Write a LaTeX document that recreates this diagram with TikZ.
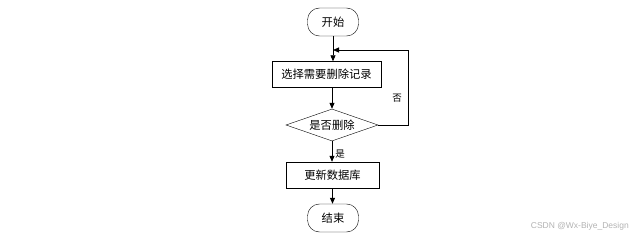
\documentclass[tikz,border=0pt]{standalone}
\usepackage{fontspec}
\newfontfamily\cjk{Noto Sans CJK SC}
\newfontfamily\wm{Liberation Sans}
\usetikzlibrary{shapes.geometric,arrows.meta}
\begin{document}
\begin{tikzpicture}[x=1pt,y=-1pt,
  every node/.style={font=\cjk\fontsize{11.3}{13}\selectfont, inner sep=0pt},
  term/.style={draw, rounded corners=12pt, minimum width=51pt, minimum height=28pt},
  proc/.style={draw, minimum height=26pt},
  dec/.style={draw, diamond, aspect=2.9, minimum width=92pt, minimum height=32pt},
  line/.style={draw, line width=0.8pt, -{Triangle[length=6pt,width=5pt]}},
  lbl/.style={font=\cjk\fontsize{9.5}{10}\selectfont}]
\useasboundingbox (0,0) rectangle (635,238);
\node[term] (start) at (333,22) {开始};
\node[proc, minimum width=109pt] (sel) at (326.5,74.5) {选择需要删除记录};
\node[dec] (d) at (332,125) {是否删除};
\node[proc, minimum width=93pt] (upd) at (332.5,175) {更新数据库};
\node[term] (end) at (333,218) {结束};
\coordinate (r1) at (408,125);
\coordinate (r2) at (408,50);
\coordinate (m) at (333,50);
\draw[line] (start.south) -- (start.south |- sel.north);
\draw[line] (sel.south -| d.north) -- (d.north);
\draw[line] (d.south) -- (d.south |- upd.north);
\draw[line] (upd.south) -- (upd.south |- end.north);
\draw[line] (d.east) -- (r1) -- (r2) -- (m);
\node[lbl] at (397,98) {否};
\node[lbl] at (340,154) {是};
\node[font=\wm\fontsize{8.5}{10}\selectfont, text=black!30, anchor=east] (wm) at (629,226) {CSDN @Wx-Biye\_Design};
\end{tikzpicture}
\end{document}
